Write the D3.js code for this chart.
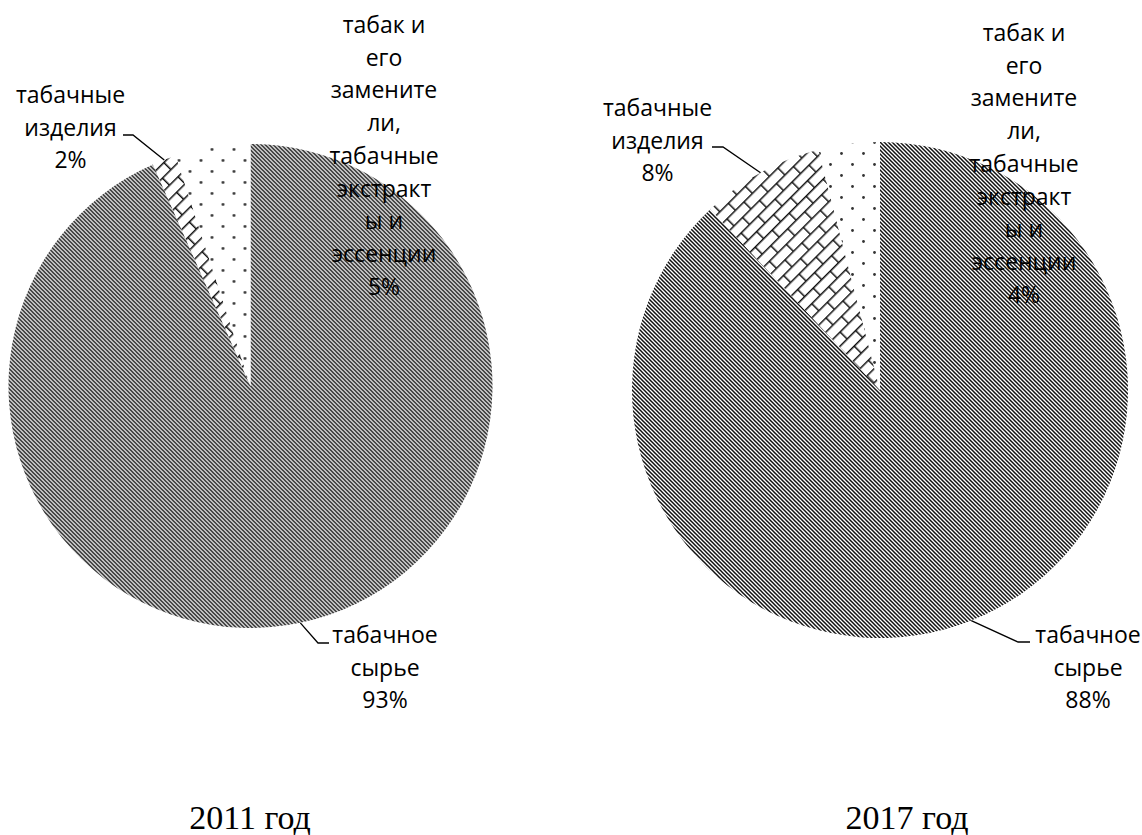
<!DOCTYPE html>
<html><head><meta charset="utf-8">
<script src="https://cdn.jsdelivr.net/npm/d3@7"></script>
<style>
html,body{margin:0;padding:0;background:#fff;}
svg{display:block;}
</style></head><body>
<svg id="chart" width="1142" height="835"></svg>
<script>
// ---- data ----
const categories = ["табачное сырье", "табачные изделия", "табак и его заменители, табачные экстракты и эссенции"];
const labelLines = [
  ["табачное", "сырье"],
  ["табачные", "изделия"],
  ["табак и", "его", "замените", "ли,", "табачные", "экстракт", "ы и", "эссенции"]
];
const years = ["2011 год", "2017 год"];
const values2011 = [93.4, 1.6, 5.0];
const values2017 = [88, 8, 4];
const seriesValues = [values2011, values2017];
const patternIds = ["hatch", "brick", "dots"];

// ---- layout (positions) ----
const layout = [
  {cx: 250.5, cy: 386, r: 242, yearX: 250,
   labels: [{x: 385, y: 635, elbow: [318, 643], end: [329, 643]},
            {x: 70.5, y: 95, elbow: [133, 135], end: [123, 135]},
            {x: 384, y: 25}]},
  {cx: 880, cy: 390, r: 248, yearX: 907,
   labels: [{x: 1088, y: 635, elbow: [1018, 642], end: [1030, 642]},
            {x: 657.5, y: 108, elbow: [723, 147], end: [712, 147]},
            {x: 1024, y: 33}]}
];
const lineH = 32.7;
const labelFont = "'Open Sans', 'Noto Sans', sans-serif";
const labelSize = 23;

const svg = d3.select("#chart");
const defs = svg.append("defs");

// diagonal hatch
const ph = defs.append("pattern").attr("id", "hatch").attr("patternUnits", "userSpaceOnUse")
  .attr("width", 4).attr("height", 4);
ph.append("rect").attr("width", 4).attr("height", 4).attr("fill", "#fff");
ph.append("path").attr("d", "M-1,-1L5,5M-1,3L1,5M3,-1L5,1")
  .attr("stroke", "#111").attr("stroke-width", 1.5);

// dots
const pd = defs.append("pattern").attr("id", "dots").attr("patternUnits", "userSpaceOnUse")
  .attr("width", 22).attr("height", 22);
pd.append("rect").attr("width", 22).attr("height", 22).attr("fill", "#fff");
pd.selectAll("circle").data([[5.5, 5.5], [16.5, 16.5]]).join("circle")
  .attr("cx", d => d[0]).attr("cy", d => d[1]).attr("r", 1.4).attr("fill", "#333");

// diagonal brick
const pb = defs.append("pattern").attr("id", "brick").attr("patternUnits", "userSpaceOnUse")
  .attr("width", 24).attr("height", 20).attr("patternTransform", "rotate(-45)");
pb.append("rect").attr("width", 24).attr("height", 20).attr("fill", "#fff");
pb.append("path").attr("d", "M0,0.75H24M0,10.75H24M0.75,0V10.5M12.75,10.5V20")
  .attr("stroke", "#111").attr("stroke-width", 1.5).attr("fill", "none");

const pie = d3.pie().sort(null).value(d => d).startAngle(0).endAngle(2 * Math.PI);
const fmt = v => d3.format(".0f")(v) + "%";

seriesValues.forEach((vals, ci) => {
  const L = layout[ci];
  const g = svg.append("g").attr("transform", `translate(${L.cx},${L.cy})`);
  const arcs = pie(vals);
  const arc = d3.arc().innerRadius(0).outerRadius(L.r);
  g.selectAll("path.slice").data(arcs).join("path")
    .attr("class", "slice")
    .attr("d", arc)
    .attr("fill", (d, i) => `url(#${patternIds[i]})`);

  // leader lines
  arcs.forEach((d, i) => {
    const lab = L.labels[i];
    if (!lab.elbow) return;
    const mid = (d.startAngle + d.endAngle) / 2;
    const sx = L.cx + L.r * Math.sin(mid), sy = L.cy - L.r * Math.cos(mid);
    svg.append("path")
      .attr("d", `M${sx},${sy}L${lab.elbow[0]},${lab.elbow[1]}L${lab.end[0]},${lab.end[1]}`)
      .attr("fill", "none").attr("stroke", "#000").attr("stroke-width", 1.3);
  });

  // labels
  arcs.forEach((d, i) => {
    const lab = L.labels[i];
    const lines = labelLines[i].concat([fmt(vals[i])]);
    const t = svg.append("text")
      .attr("font-family", labelFont).attr("font-size", labelSize)
      .attr("fill", "#000").attr("text-anchor", "middle");
    lines.forEach((s, k) => {
      t.append("tspan").attr("x", lab.x).attr("y", lab.y + k * lineH).attr("dy", "0.35em").text(s);
    });
  });

  svg.append("text")
    .attr("x", L.yearX).attr("y", 829)
    .attr("font-family", "'Liberation Serif', 'Times New Roman', serif")
    .attr("font-size", 34).attr("text-anchor", "middle").attr("fill", "#000")
    .text(years[ci]);
});
</script>
</body></html>
